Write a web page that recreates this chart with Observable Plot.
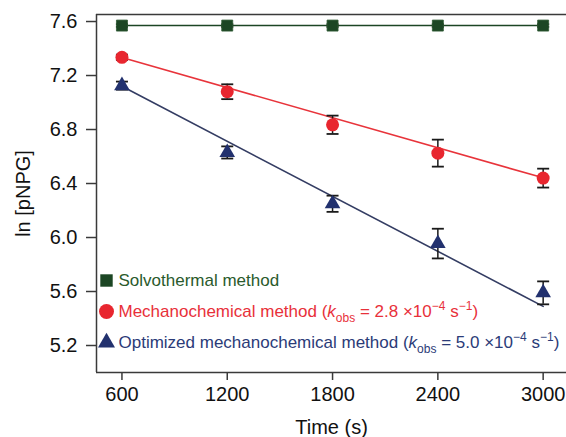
<!DOCTYPE html>
<html>
<head>
<meta charset="utf-8">
<script src="https://cdn.jsdelivr.net/npm/d3@7"></script>
<script src="https://cdn.jsdelivr.net/npm/@observablehq/plot@0.6"></script>
<style>
  html, body { margin: 0; padding: 0; background: #fff; }
  #chart { width: 566px; height: 437px; }
</style>
</head>
<body>
<div id="chart"></div>
<script>
// ---- Data ----
const times = [600, 1200, 1800, 2400, 3000];
const solvothermal = [7.57, 7.57, 7.57, 7.57, 7.57];
const solvothermalErr = [0.01, 0.01, 0.01, 0.01, 0.01];
const mechano = [7.335, 7.08, 6.835, 6.625, 6.44];
const mechanoErr = [0.02, 0.055, 0.068, 0.10, 0.07];
const optimized = [7.125, 6.63, 6.25, 5.955, 5.59];
const optimizedErr = [0.03, 0.045, 0.06, 0.11, 0.085];
const fitTimes = [600, 3000];
const fitMechano = [7.333, 6.442];
const fitOptimized = [7.12, 5.49];
const xTicks = [600, 1200, 1800, 2400, 3000];
const yTicks = [5.2, 5.6, 6.0, 6.4, 6.8, 7.2, 7.6];
const xDomain = [455, 3133];
const yDomain = [5.0, 7.652];
const seriesNames = ["Solvothermal method", "Mechanochemical method", "Optimized mechanochemical method"];

const colors = {
  solvo: "#1c4624", solvoText: "#2a5a2c",
  mech: "#e8262f", mechLine: "#e8343b", mechText: "#e8303a",
  opt: "#22316e", optLine: "#343d63", optText: "#2b3b78"
};

function rows(vals, errs) {
  return times.map((t, i) => ({ x: t, y: vals[i], lo: vals[i] - errs[i], hi: vals[i] + errs[i] }));
}
const solvoRows = rows(solvothermal, solvothermalErr);
const mechRows = rows(mechano, mechanoErr);
const optRows = rows(optimized, optimizedErr);
const fitMechRows = fitTimes.map((t, i) => ({ x: t, y: fitMechano[i] }));
const fitOptRows = fitTimes.map((t, i) => ({ x: t, y: fitOptimized[i] }));

// horizontal cap symbol for error bars
const capSymbol = {
  draw(context, size) {
    const w = Math.sqrt(size / Math.PI);
    context.moveTo(-w, 0);
    context.lineTo(w, 0);
  }
};

function errorMarks(data) {
  return [
    Plot.ruleX(data, { x: "x", y1: "lo", y2: "hi", stroke: "#1a1a1a", strokeWidth: 1.5 }),
    Plot.dot(data, { x: "x", y: "lo", symbol: capSymbol, r: 6, stroke: "#1a1a1a", strokeWidth: 1.8 }),
    Plot.dot(data, { x: "x", y: "hi", symbol: capSymbol, r: 6, stroke: "#1a1a1a", strokeWidth: 1.8 })
  ];
}

const legendRows = [
  { name: seriesNames[0], symbol: "square", fill: colors.solvo, text: colors.solvoText, dy: -92, r: 7 },
  { name: seriesNames[1], symbol: "circle", fill: colors.mech, text: colors.mechText, dy: -61, r: 7.5 },
  { name: seriesNames[2], symbol: "triangle", fill: colors.opt, text: colors.optText, dy: -30, r: 6.3 }
];

const frameStroke = "#3a3a3a";

const chart = Plot.plot({
  width: 566,
  height: 437,
  marginLeft: 96,
  marginTop: 14,
  marginBottom: 65,
  marginRight: 0,
  style: { fontFamily: "'Liberation Sans', Arial, sans-serif", fontSize: "20px", color: "#111", background: "#fff", overflow: "visible" },
  x: { domain: xDomain, ticks: xTicks, tickSize: 8, tickPadding: 6, tickFormat: d => String(d), label: null },
  y: { domain: yDomain, ticks: yTicks, tickSize: 10, tickPadding: 9, tickFormat: d => d.toFixed(1), label: null },
  marks: [
    // frame (top, left, bottom)
    Plot.ruleY([yDomain[1]], { stroke: frameStroke, strokeWidth: 1.5 }),
    Plot.ruleY([yDomain[0]], { stroke: frameStroke, strokeWidth: 1.5 }),
    Plot.ruleX([xDomain[0]], { stroke: frameStroke, strokeWidth: 1.5 }),
    // lines
    Plot.line(solvoRows, { x: "x", y: "y", stroke: colors.solvo, strokeWidth: 1.5 }),
    Plot.line(fitMechRows, { x: "x", y: "y", stroke: colors.mechLine, strokeWidth: 1.6 }),
    Plot.line(fitOptRows, { x: "x", y: "y", stroke: colors.optLine, strokeWidth: 1.6 }),
    // error bars
    ...errorMarks(solvoRows),
    ...errorMarks(mechRows),
    ...errorMarks(optRows),
    // markers
    Plot.dot(solvoRows, { x: "x", y: "y", symbol: "square", r: 6.2, fill: colors.solvo, stroke: "#2f5a33", strokeWidth: 0.8 }),
    Plot.dot(mechRows, { x: "x", y: "y", symbol: "circle", r: 6.5, fill: colors.mech }),
    Plot.dot(optRows, { x: "x", y: "y", symbol: "triangle", r: 5.8, fill: colors.opt }),
    // legend symbols
    ...legendRows.map(d => Plot.dot([d], { frameAnchor: "bottom-left", dx: 10, dy: d.dy, symbol: d.symbol, r: d.r, fill: d.fill })),
    // legend texts
    ...legendRows.map(d => Plot.text([d], { frameAnchor: "bottom-left", dx: 22, dy: d.dy, text: "name", fill: d.text, textAnchor: "start", lineAnchor: "middle", fontSize: 17 })),
    // axis labels
    Plot.text(["Time (s)"], { frameAnchor: "bottom", dy: 55, lineAnchor: "middle", fontSize: 20, fill: "#111" }),
    Plot.text(["ln [pNPG]"], { frameAnchor: "left", dx: -73, rotate: -90, textAnchor: "middle", lineAnchor: "middle", fontSize: 20, fill: "#111" })
  ]
});

// Style axis tick lines
d3.select(chart).selectAll("g[aria-label='x-axis tick'] path, g[aria-label='y-axis tick'] path")
  .attr("stroke", frameStroke).attr("stroke-width", 1.5);

// Rich legend text: italic k, subscript obs, superscripts
const rich = {
  [seriesNames[1]]: [["Mechanochemical method ("], ["k", "i"], ["obs", "sub"], [" = 2.8 ×10"], ["−4", "sup"], [" s"], ["−1", "sup"], [")"]],
  [seriesNames[2]]: [["Optimized mechanochemical method ("], ["k", "i"], ["obs", "sub"], [" = 5.0 ×10"], ["−4", "sup"], [" s"], ["−1", "sup"], [")"]]
};
d3.select(chart).selectAll("text").each(function () {
  const el = d3.select(this);
  const txt = this.textContent;
  if (!rich[txt]) return;
  el.text(null);
  let shift = 0;
  for (const [t, kind] of rich[txt]) {
    const ts = el.append("tspan").text(t);
    let target = 0;
    if (kind === "sub") { target = 5; ts.attr("font-size", "12px"); }
    else if (kind === "sup") { target = -7; ts.attr("font-size", "12px"); }
    if (kind === "i") ts.attr("font-style", "italic");
    if (target !== shift) { ts.attr("dy", target - shift); shift = target; }
  }
});

document.getElementById("chart").appendChild(chart);
</script>
</body>
</html>
